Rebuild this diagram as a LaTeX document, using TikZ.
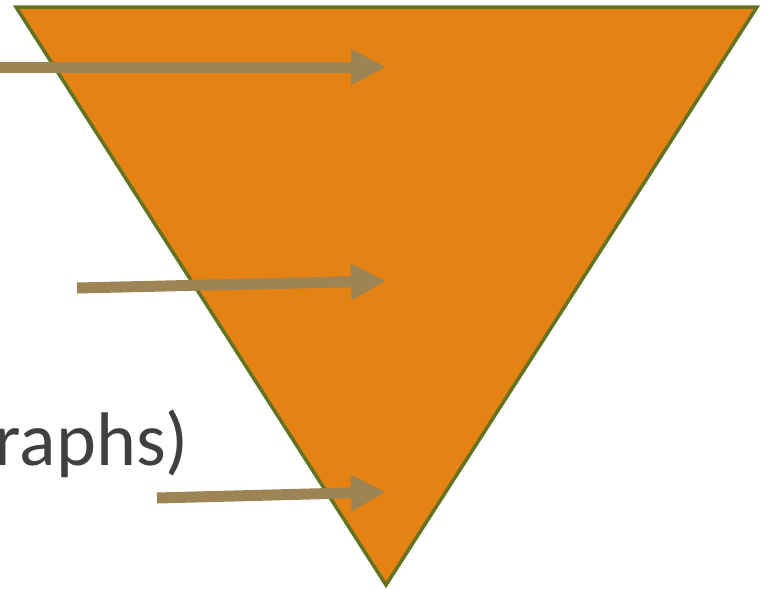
\documentclass[tikz,border=0pt]{standalone}
\usepackage{fontspec}
\setmainfont{Carlito}
\usetikzlibrary{arrows.meta}
\definecolor{funnelfill}{HTML}{E48213}
\definecolor{funneledge}{HTML}{637321}
\definecolor{arrowcol}{HTML}{9C8455}
\definecolor{textgray}{HTML}{404040}
\tikzset{
  funnel/.style={fill=funnelfill, draw=funneledge, line width=3.5pt, line join=miter},
  fatarrow/.style={draw=arrowcol, line width=11pt, -{Triangle[length=35pt,width=34pt]}},
  bigtext/.style={text=textgray, inner sep=0pt, font=\fontsize{76}{82}\selectfont}
}
\begin{document}
\begin{tikzpicture}[x=1pt,y=-1pt]
\useasboundingbox (0,0) rectangle (769,589);
\clip (0,0) rectangle (769,589);
\coordinate (tl) at (16,7);
\coordinate (tr) at (757,7);
\coordinate (bt) at (386,585);
\draw[funnel] (tl) -- (tr) -- (bt) -- cycle;
\node[bigtext, anchor=base east] (txt) at (189,465) {graphs)};
\coordinate (a1s) at (-5,67);
\coordinate (a1e) at (386,67);
\coordinate (a2s) at (77,288);
\coordinate (a2e) at (386,281);
\coordinate (a3s) at (157,498);
\coordinate (a3e) at (386,492);
\draw[fatarrow] (a1s) -- (a1e);
\draw[fatarrow] (a2s) -- (a2e);
\draw[fatarrow] (a3s) -- (a3e);
\end{tikzpicture}
\end{document}
